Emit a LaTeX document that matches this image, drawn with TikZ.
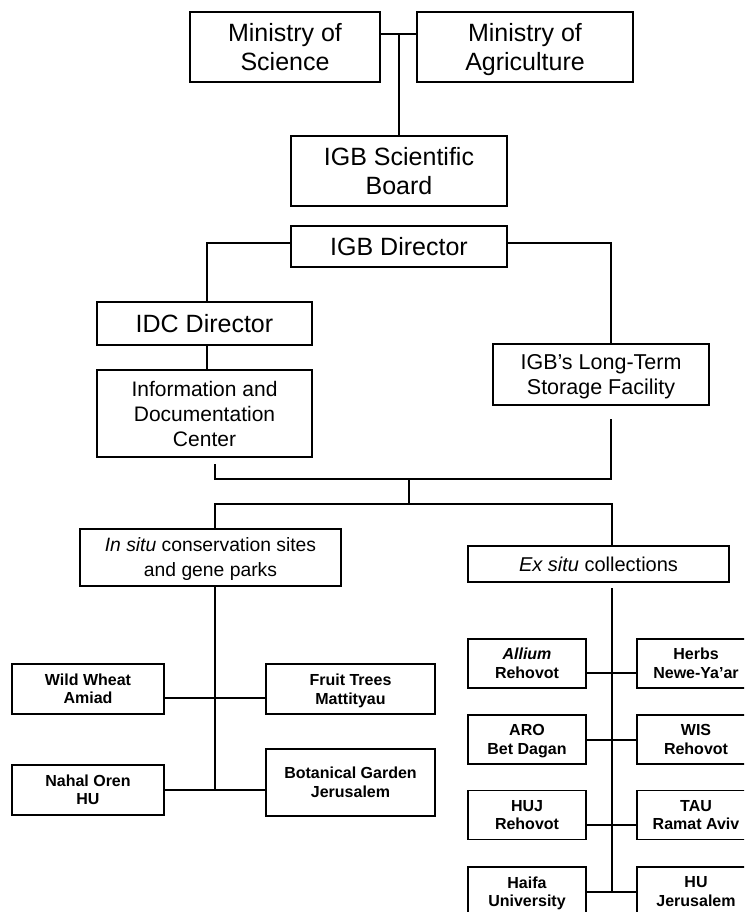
\documentclass[tikz,border=0pt]{standalone}
\usepackage{fontspec}
\setmainfont{Liberation Sans}
\newcommand\nodp[1]{\raisebox{0pt}[\height][0pt]{#1}}
\begin{document}
\begin{tikzpicture}[x=1pt,y=-1pt,
  bx/.style={draw, line width=1.3pt, inner sep=0pt, align=center},
  big/.style={bx, font=\fontsize{25}{28.5}\selectfont},
  mid/.style={bx, font=\fontsize{20}{25}\selectfont},
  sml/.style={bx, font=\fontsize{16}{18.5}\selectfont\bfseries},
  ln/.style={line width=1.3pt}]
\useasboundingbox (0,0) rectangle (744,912);
\fill[white] (0,0) rectangle (744,912);
\clip (0,0) rectangle (744,912);

% top tier
\node[big, minimum width=190pt, minimum height=70pt] (ms) at (285,47) {Ministry of\\Science};
\node[big, minimum width=216pt, minimum height=70pt] (ma) at (525,47) {Ministry of\\\nodp{Agriculture}};
\node[big, minimum width=216pt, minimum height=70pt] (sb) at (399,171) {IGB Scientific\\Board};
\node[big, minimum width=216pt, minimum height=41pt] (dir) at (399,246.5) {IGB Director};
\node[big, minimum width=215pt, minimum height=43pt] (idc) at (204.5,323.5) {IDC Director};
\node[mid, font=\fontsize{21}{25}\selectfont, minimum width=215pt, minimum height=87pt] (info) at (204.5,413.5) {Information and\\Documentation\\Center};
\node[mid, font=\fontsize{21.5}{25}\selectfont, minimum width=216pt, minimum height=61pt] (lt) at (601,374.5) {IGB’s Long-Term\\\nodp{Storage Facility}};
\node[mid, font=\fontsize{19.3}{25}\selectfont, minimum width=261pt, minimum height=57pt] (insitu) at (210.5,557.5) {\textit{In situ} conservation sites\\\nodp{and gene parks}};
\node[mid, minimum width=261pt, minimum height=36pt] (exsitu) at (598.5,564) {\textit{Ex situ} collections};

% in situ children
\node[sml, minimum width=152pt, minimum height=50pt] (ww) at (88,689) {Wild Wheat\\Amiad};
\node[sml, minimum width=169pt, minimum height=50pt] (ft) at (350.5,689) {Fruit Trees\\\nodp{Mattityau}};
\node[sml, minimum width=152pt, minimum height=50pt] (no) at (88,790) {Nahal Oren\\HU};
\node[sml, minimum width=169pt, minimum height=67pt] (bg) at (350.5,782.5) {Botanical Garden\\Jerusalem};

% ex situ children
\node[sml, minimum width=118pt, minimum height=49pt] (e1l) at (527,663.5) {\textit{Allium}\\Rehovot};
\node[sml, minimum width=118pt, minimum height=49pt] (e1r) at (696,663.5) {Herbs\\Newe-Ya’ar};
\node[sml, minimum width=118pt, minimum height=49pt] (e2l) at (527,739.5) {ARO\\\nodp{Bet Dagan}};
\node[sml, minimum width=118pt, minimum height=49pt] (e2r) at (696,739.5) {WIS\\Rehovot};
\node[sml, minimum width=118pt, minimum height=49pt] (e3l) at (527,815) {HUJ\\Rehovot};
\node[sml, minimum width=118pt, minimum height=49pt] (e3r) at (696,815) {TAU\\Ramat Aviv};
\node[sml, minimum width=118pt, minimum height=49pt] (e4l) at (527,891.5) {Haifa\\\nodp{University}};
\node[sml, minimum width=118pt, minimum height=49pt] (e4r) at (696,891.5) {HU\\Jerusalem};

% helper coordinates
\coordinate (ytop) at (0,34);
\coordinate (ydir) at (0,243);
\coordinate (bl) at (215,464);
\coordinate (br) at (611,419);
\coordinate (yb) at (0,479);
\coordinate (mtop) at (409,479);
\coordinate (ysplit) at (0,504);
\coordinate (jl) at (215,504);
\coordinate (jr) at (612,504);
\coordinate (exv) at (612,588);
\coordinate (s1) at (0,698);
\coordinate (s2) at (0,790);
\coordinate (r1) at (0,673);
\coordinate (r2) at (0,740);
\coordinate (r3) at (0,825);
\coordinate (r4) at (0,892);
\coordinate (idcx) at (207,0);

% connectors
\draw[ln] (ms.east |- ytop) -- (ma.west |- ytop);
\draw[ln] (sb.north) -- (sb.north |- ytop);
\draw[ln] (dir.west |- ydir) -| (idcx |- idc.north);
\draw[ln] (idcx |- idc.south) -- (idcx |- info.north);
\draw[ln] (dir.east |- ydir) -| (br |- lt.north);
\draw[ln] (bl) |- (br |- yb) -- (br);
\draw[ln] (mtop) -- (mtop |- ysplit);
\draw[ln] (jl |- insitu.north) -- (jl) -- (jr) -- (jr |- exsitu.north);
\draw[ln] (insitu.south -| jl) -- (jl |- s2);
\draw[ln] (ww.east |- s1) -- (ft.west |- s1);
\draw[ln] (no.east |- s2) -- (bg.west |- s2);
\draw[ln] (exv) -- (exv |- r4);
\draw[ln] (e1l.east |- r1) -- (e1r.west |- r1);
\draw[ln] (e2l.east |- r2) -- (e2r.west |- r2);
\draw[ln] (e3l.east |- r3) -- (e3r.west |- r3);
\draw[ln] (e4l.east |- r4) -- (e4r.west |- r4);
\end{tikzpicture}
\end{document}
